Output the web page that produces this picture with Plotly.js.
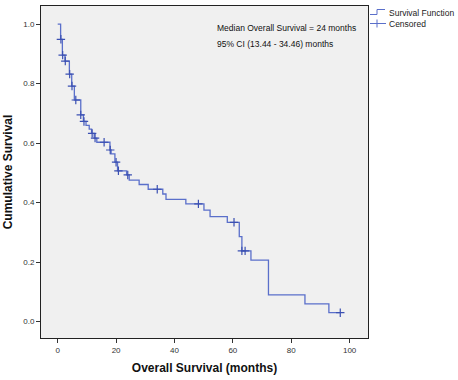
<!DOCTYPE html>
<html>
<head>
<meta charset="utf-8">
<script src="https://cdn.plot.ly/plotly-3.0.1.min.js"></script>
<style>html,body{margin:0;padding:0;background:#fff;}#chart{width:458px;height:380px;}</style>
</head>
<body>
<div id="chart"></div>
<script>
// Kaplan-Meier step curve (months, cumulative survival)
var stepTimes = [0, 1.0, 1.6, 2.5, 4.0, 4.8, 5.7, 7.9, 8.8, 9.7, 10.8, 11.6, 12.5, 13.4, 17.9, 18.3, 19.6, 20.5, 23.6, 24.5, 27.9, 31.0, 36.0, 37.1, 43.9, 50.1, 52.2, 58.1, 62.2, 63.1, 66.2, 72.2, 84.7, 92.9, 97.0];
var stepSurvival = [1.0, 0.949, 0.896, 0.876, 0.832, 0.792, 0.745, 0.695, 0.673, 0.660, 0.647, 0.633, 0.617, 0.603, 0.577, 0.564, 0.536, 0.507, 0.493, 0.476, 0.461, 0.445, 0.429, 0.411, 0.396, 0.375, 0.353, 0.334, 0.286, 0.238, 0.207, 0.090, 0.060, 0.030, 0.030];
// Censored observations
var censorTimes = [1.1, 1.7, 2.6, 4.1, 4.9, 6.2, 7.9, 9.0, 11.8, 12.8, 15.9, 18.0, 20.0, 20.8, 24.0, 34.1, 48.2, 60.4, 63.1, 64.2, 96.8];
var censorSurvival = [0.949, 0.896, 0.876, 0.832, 0.792, 0.745, 0.695, 0.673, 0.633, 0.617, 0.603, 0.577, 0.536, 0.507, 0.493, 0.445, 0.396, 0.334, 0.238, 0.238, 0.030];

var xTicks = [0, 20, 40, 60, 80, 100];
var yTicks = [0.0, 0.2, 0.4, 0.6, 0.8, 1.0];
var legendLabels = ["Survival Function", "Censored"];
var noteLines = ["Median Overall Survival = 24 months", "95% CI (13.44 - 34.46) months"];

var FONT = "'Liberation Sans', Arial, sans-serif";
var lineColor = '#5a6fca';
var markColor = '#3b50b2';

// pixel helpers for paper coords (plot area: x 41..368, y 6..338)
function px(p){ return (p - 41) / 327; }
function py(p){ return (338 - p) / 332; }

var traces = [
  {x: stepTimes, y: stepSurvival, type: 'scatter', mode: 'lines',
   line: {shape: 'hv', color: lineColor, width: 1.3}, name: legendLabels[0], hoverinfo: 'skip'},
  {x: censorTimes, y: censorSurvival, type: 'scatter', mode: 'markers',
   marker: {symbol: 'cross-thin', size: 6, color: markColor, line: {color: markColor, width: 1.2}},
   name: legendLabels[1], hoverinfo: 'skip'}
];

var shapes = [
  // legend icon: step
  {type:'line', xref:'paper', yref:'paper', x0:px(370), x1:px(377), y0:py(14.5), y1:py(14.5), line:{color:lineColor, width:1}},
  {type:'line', xref:'paper', yref:'paper', x0:px(377), x1:px(377), y0:py(14.5), y1:py(9.5), line:{color:lineColor, width:1}},
  {type:'line', xref:'paper', yref:'paper', x0:px(377), x1:px(385), y0:py(9.5), y1:py(9.5), line:{color:lineColor, width:1}},
  // legend icon: cross
  {type:'line', xref:'paper', yref:'paper', x0:px(370), x1:px(386), y0:py(23.5), y1:py(23.5), line:{color:lineColor, width:1}},
  {type:'line', xref:'paper', yref:'paper', x0:px(377), x1:px(377), y0:py(19.5), y1:py(27.5), line:{color:lineColor, width:1}}
];

var annotations = [
  {xref:'paper', yref:'paper', x:px(387), y:py(13.5), xanchor:'left', yanchor:'middle', showarrow:false,
   text: legendLabels[0], font:{family:FONT, size:8.5, color:'#222'}},
  {xref:'paper', yref:'paper', x:px(387), y:py(24), xanchor:'left', yanchor:'middle', showarrow:false,
   text: legendLabels[1], font:{family:FONT, size:8.5, color:'#222'}},
  {xref:'paper', yref:'paper', x:px(215), y:py(28), xanchor:'left', yanchor:'middle', showarrow:false,
   text: noteLines[0], font:{family:FONT, size:8.5, color:'#111'}},
  {xref:'paper', yref:'paper', x:px(215), y:py(44), xanchor:'left', yanchor:'middle', showarrow:false,
   text: noteLines[1], font:{family:FONT, size:8.5, color:'#111'}}
];

var layout = {
  width: 458, height: 380,
  margin: {l: 41, r: 90, t: 6, b: 42, pad: 0},
  paper_bgcolor: '#ffffff',
  plot_bgcolor: '#f0f0f0',
  showlegend: false,
  font: {family: FONT, size: 8, color: '#333'},
  xaxis: {
    range: [-5.72, 106.3], tickvals: xTicks, ticktext: xTicks.map(String),
    ticks: 'outside', ticklen: 4, tickcolor: '#333', showgrid: false, zeroline: false,
    showline: true, linecolor: '#222', linewidth: 1, mirror: true,
    tickfont: {family: FONT, size: 8, color: '#333'},
    title: {text: 'Overall Survival (months)', font: {family: FONT, size: 12, color: '#111', weight: 'bold'}, standoff: 10}
  },
  yaxis: {
    range: [-0.055, 1.061], tickvals: yTicks, ticktext: yTicks.map(function(v){return v.toFixed(1);}),
    ticks: 'outside', ticklen: 4, tickcolor: '#333', showgrid: false, zeroline: false,
    showline: true, linecolor: '#222', linewidth: 1, mirror: true,
    tickfont: {family: FONT, size: 8, color: '#333'},
    title: {text: 'Cumulative Survival', font: {family: FONT, size: 12, color: '#111', weight: 'bold'}, standoff: 8}
  },
  shapes: shapes,
  annotations: annotations
};

Plotly.newPlot('chart', traces, layout, {staticPlot: true, displayModeBar: false});
</script>
</body>
</html>
